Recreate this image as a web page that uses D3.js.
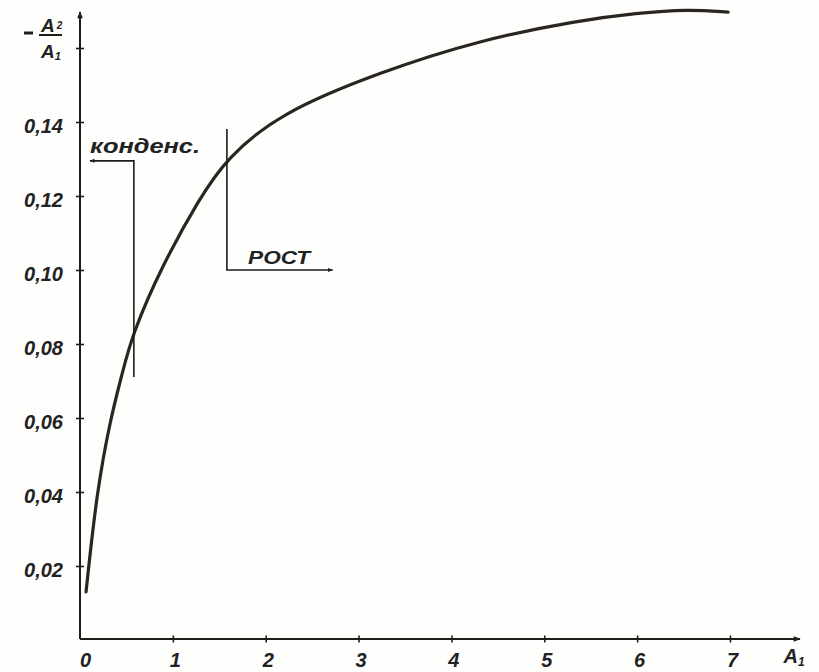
<!DOCTYPE html>
<html>
<head>
<meta charset="utf-8">
<script src="https://cdn.jsdelivr.net/npm/d3@7"></script>
<style>
  html, body { margin: 0; padding: 0; background: #fefefd; }
  svg { display: block; }
  text { font-family: "Liberation Sans", Arial, sans-serif; font-weight: bold; font-style: italic; fill: #222; }
</style>
</head>
<body>
<svg id="chart" width="819" height="672"></svg>
<script>
// ---- data ----
const curveX = [0.065, 0.18, 0.33, 0.45, 0.56, 0.89, 1.29, 1.58, 2.15, 3.23, 4.31, 5.38, 6.0, 6.53, 6.98];
const curveY = [0.013, 0.040, 0.060, 0.0715, 0.0825, 0.1015, 0.1195, 0.1302, 0.1424, 0.1535, 0.1622, 0.1675, 0.1694, 0.1705, 0.1697];
const xTicks = [0, 1, 2, 3, 4, 5, 6, 7];
const xTickLabels = ["0", "1", "2", "3", "4", "5", "6", "7"];
const yTicks = [0.02, 0.04, 0.06, 0.08, 0.10, 0.12, 0.14, 0.16];
const yTickLabels = ["0,02", "0,04", "0,06", "0,08", "0,10", "0,12", "0,14", ""];
// annotation: "конденс." (condensation) bracket, in data units
const condLabel = "конденс.";
const condLine = [[0.108, 0.1295], [0.58, 0.1295], [0.58, 0.0711]];
const condText = [0.108, 0.1316];
// annotation: "РОСТ" (growth) bracket
const growLabel = "РОСТ";
const growLine = [[1.582, 0.1381], [1.582, 0.1], [2.72, 0.1]];
const growText = [1.81, 0.1016];

// ---- scales ----
const x = d3.scaleLinear().domain([0, 7]).range([80, 730]);
const y = d3.scaleLinear().domain([0, 0.16]).range([640, 48]);
const axisY0 = 639, axisX0 = 80, yTop = 12, xRight = 800;

const svg = d3.select("#chart");
const ink = "#1f1c1a";

const defs = svg.append("defs");
defs.append("marker").attr("id", "arr").attr("viewBox", "0 0 10 10")
  .attr("refX", 9).attr("refY", 5)
  .attr("markerUnits", "userSpaceOnUse").attr("orient", "auto")
  .attr("markerWidth", 14).attr("markerHeight", 7)
  .append("path").attr("d", "M0,1 L10,5 L0,9 Z").attr("fill", ink);
defs.append("marker").attr("id", "arrS").attr("viewBox", "0 0 10 10")
  .attr("refX", 9).attr("refY", 5)
  .attr("markerUnits", "userSpaceOnUse").attr("orient", "auto")
  .attr("markerWidth", 10).attr("markerHeight", 5)
  .append("path").attr("d", "M0,1 L10,5 L0,9 Z").attr("fill", ink);

// ---- axes ----
const gx = svg.append("g").attr("transform", `translate(0,${axisY0})`)
  .call(d3.axisBottom(x).tickValues(xTicks).tickSize(7).tickFormat(""));
gx.select(".domain").remove();
gx.selectAll(".tick line").attr("transform", "translate(0,-3.5)").attr("stroke", ink).attr("stroke-width", 1.6);
gx.selectAll(".tick").filter(d => d === 0).select("line").remove();
gx.append("line").attr("x1", axisX0).attr("x2", xRight).attr("y1", 0).attr("y2", 0)
  .attr("stroke", ink).attr("stroke-width", 2).attr("marker-end", "url(#arr)");
gx.selectAll(".tick").append("text")
  .attr("x", (d, i) => i === 0 ? 5 : 2).attr("y", 28)
  .attr("text-anchor", "middle").style("font-size", "20px")
  .text((d, i) => xTickLabels[i]);
const xl = gx.append("text").attr("x", xRight - 6).attr("y", 24).style("font-size", "20px");
xl.append("tspan").text("A");
xl.append("tspan").attr("dy", 3).style("font-size", "12px").text("1");

const gy = svg.append("g").attr("transform", `translate(${axisX0},0)`)
  .call(d3.axisLeft(y).tickValues(yTicks).tickSize(8).tickFormat(""));
gy.select(".domain").remove();
gy.selectAll(".tick line").attr("transform", "translate(4,0)").attr("stroke", ink).attr("stroke-width", 1.6);
gy.append("line").attr("x1", 0).attr("x2", 0).attr("y1", axisY0).attr("y2", yTop)
  .attr("stroke", ink).attr("stroke-width", 2).attr("marker-end", "url(#arr)");
gy.selectAll(".tick").append("text")
  .attr("x", -17).attr("y", 10).attr("text-anchor", "end")
  .style("font-size", "20px")
  .text((d, i) => yTickLabels[i]);

// y-axis title: - A2 / A1
const yt = svg.append("g");
yt.append("line").attr("x1", 24).attr("x2", 33).attr("y1", 33).attr("y2", 33).attr("stroke", ink).attr("stroke-width", 3);
yt.append("line").attr("x1", 39).attr("x2", 62).attr("y1", 35).attr("y2", 35).attr("stroke", ink).attr("stroke-width", 2);
const num = yt.append("text").attr("x", 41).attr("y", 32).style("font-size", "19px");
num.append("tspan").text("A");
num.append("tspan").attr("dy", -3).attr("dx", 2).style("font-size", "10px").text("2");
const den = yt.append("text").attr("x", 41).attr("y", 58).style("font-size", "19px");
den.append("tspan").text("A");
den.append("tspan").attr("dy", 2).style("font-size", "11px").text("1");

// ---- curve ----
const pts = curveX.map((v, i) => [v, curveY[i]]);
svg.append("path").datum(pts)
  .attr("d", d3.line().x(d => x(d[0])).y(d => y(d[1])).curve(d3.curveBasis))
  .attr("fill", "none").attr("stroke", "#2a2521").attr("stroke-width", 3.2).attr("stroke-linecap", "round");

// ---- annotations ----
const ln = d3.line().x(d => x(d[0])).y(d => y(d[1]));
svg.append("path").datum(condLine.slice().reverse()).attr("d", ln)
  .attr("fill", "none").attr("stroke", ink).attr("stroke-width", 1.6).attr("marker-end", "url(#arrS)");
svg.append("text").attr("x", x(condText[0])).attr("y", y(condText[1]))
  .attr("textLength", 110).attr("lengthAdjust", "spacingAndGlyphs")
  .style("font-size", "21px").text(condLabel);
svg.append("path").datum(growLine).attr("d", ln)
  .attr("fill", "none").attr("stroke", ink).attr("stroke-width", 1.6).attr("marker-end", "url(#arrS)");
svg.append("text").attr("x", x(growText[0])).attr("y", y(growText[1]))
  .attr("textLength", 62).attr("lengthAdjust", "spacingAndGlyphs")
  .style("font-size", "19px").text(growLabel);
</script>
</body>
</html>
